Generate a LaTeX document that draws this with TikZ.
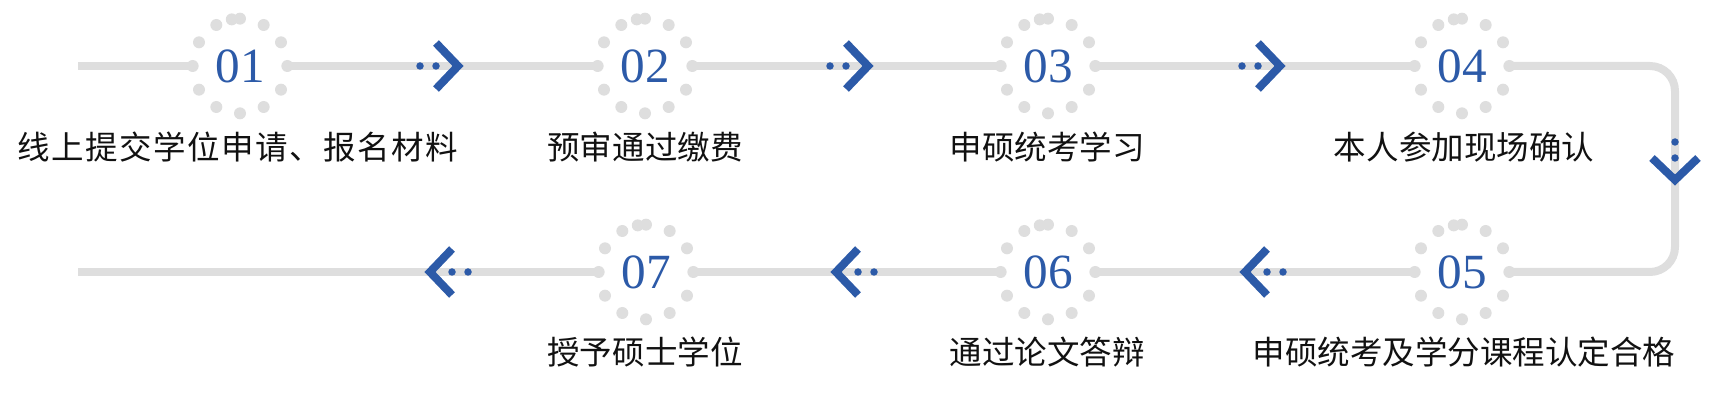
\documentclass[tikz,border=0pt]{standalone}
\usepackage{fontspec}
\newfontfamily\cjk{Noto Sans CJK SC}
\newfontfamily\cjkwide[LetterSpace=4.5]{Noto Sans CJK SC}
\newfontfamily\numfont{Liberation Serif}
\usetikzlibrary{positioning}
\definecolor{StepBlue}{HTML}{2C5AA8}
\definecolor{StepGray}{HTML}{DEDEDE}
\definecolor{StepText}{HTML}{111111}
\tikzset{
    % number inside the ring of dots
    stepnum/.style={
        circle,
        inner sep=0pt,
        minimum size=1.88cm,
        text=StepBlue,
        font=\numfont\fontsize{28pt}{30pt}\selectfont
    },
    steplabel/.style={
        inner sep=0pt,
        text=StepText,
        font=\cjk\fontsize{18.5pt}{20pt}\selectfont
    },
    % grey track between the steps
    trackline/.style={
        draw=StepGray,
        line width=0.16cm
    },
    ringdot/.style={
        fill=StepGray
    },
    % blue arrow head with two dots behind it
    pics/chevron/.style={
        code={
            \draw[StepBlue, line width=0.16cm] (-27,23) -- (-5,0) -- (-27,-23);
            \fill[StepBlue] (-43,0) circle[radius=0.075cm] (-27,0) circle[radius=0.075cm];
        }
    }
}

\begin{document}
\begin{tikzpicture}[x=0.02cm, y=0.02cm]
    \useasboundingbox (0,0) rectangle (1732,409);

    % top row, left to right
    \node[stepnum] (s1) at (240,343) {01};
    \node[stepnum] (s2) at (645,343) {02};
    \node[stepnum] (s3) at (1048,343) {03};
    \node[stepnum] (s4) at (1462,343) {04};
    % bottom row, right to left
    \node[stepnum] (s5) at (1462,137) {05};
    \node[stepnum] (s6) at (1048,137) {06};
    \node[stepnum] (s7) at (646,137) {07};

    \coordinate (start) at (78,343);
    \coordinate (bend) at (1675,343);
    \coordinate (finish) at (78,137);

    \draw[trackline] (start) -- (s1.west);
    \draw[trackline] (s1.east) -- (s2.west);
    \draw[trackline] (s2.east) -- (s3.west);
    \draw[trackline] (s3.east) -- (s4.west);
    \draw[trackline, rounded corners=0.5cm] (s4.east) -- (bend) |- (s5.east);
    \draw[trackline] (s5.west) -- (s6.east);
    \draw[trackline] (s6.west) -- (s7.east);
    \draw[trackline] (s7.west) -- (finish);

    \foreach \n in {1,...,7} {
        \foreach \a in {0,30,...,330,100}
            \fill[ringdot] (s\n.\a) circle[radius=0.12cm];
    }

    \pic at (463,343) {chevron};
    \pic at (873,343) {chevron};
    \pic at (1285,343) {chevron};
    \pic[rotate=-90] at (1675,224) {chevron};
    \pic[rotate=180] at (1240,137) {chevron};
    \pic[rotate=180] at (831,137) {chevron};
    \pic[rotate=180] at (425,137) {chevron};

    \node[steplabel, font=\cjkwide\fontsize{18.5pt}{20pt}\selectfont] (l1) at (238,262) {线上提交学位申请、报名材料};
    \node[steplabel] (l2) at (645,262) {预审通过缴费};
    \node[steplabel] (l3) at (1047,262) {申硕统考学习};
    \node[steplabel] (l4) at (1464,262) {本人参加现场确认};
    \node[steplabel] (l5) at (1464,57) {申硕统考及学分课程认定合格};
    \node[steplabel] (l6) at (1047,57) {通过论文答辩};
    \node[steplabel] (l7) at (645,57) {授予硕士学位};
\end{tikzpicture}
\end{document}
